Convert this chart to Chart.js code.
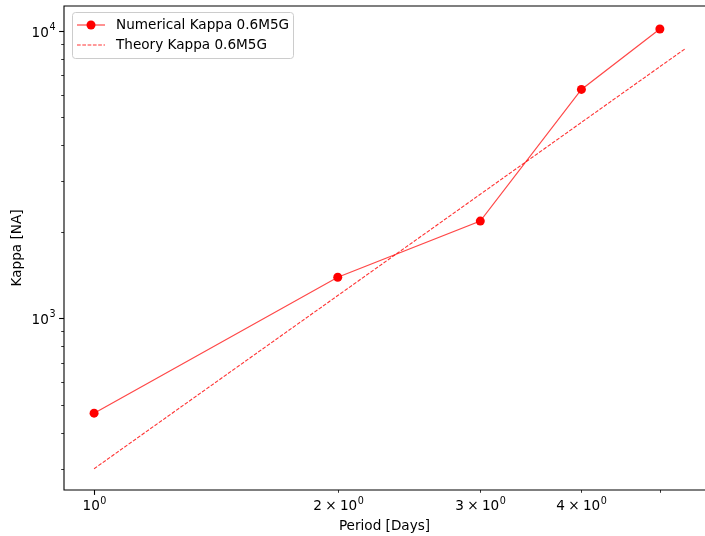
<!DOCTYPE html>
<html lang="en">
<head>
    <meta charset="UTF-8">
    <title>Kappa vs Period</title>
    <script src="https://cdn.jsdelivr.net/npm/chart.js"></script>
    <style>
        body {
            margin: 0;
            background: #fff;
        }
        .chart-container {
            width: 705px;
            height: 536px;
        }
    </style>
</head>
<body>
    <div class="chart-container">
        <canvas id="kappaChart"></canvas>
    </div>

    <script>
        // values
        const periods = [1, 2, 3, 4, 5];
        const numericalKappa = [468, 1389, 2178, 6252, 10136];
        const theoryPeriods = [1, 2, 3, 4, 5, 5.38];
        const theoryKappa = [300, 1200, 2700, 4800, 7500, 8680];

        const xTicks = [1, 2, 3, 4, 5];
        // [base, exponent] pairs, drawn like matplotlib mathtext
        const xTickLabels = [['10', '0'], ['2\u2005\u00d7\u200510', '0'], ['3\u2005\u00d7\u200510', '0'], ['4\u2005\u00d7\u200510', '0'], null];
        const xMajor = [1];
        const yTicks = [300, 400, 500, 600, 700, 800, 900, 1000, 2000, 3000, 4000, 5000, 6000, 7000, 8000, 9000, 10000];
        const yMajor = [1000, 10000];
        const yTickLabels = {1000: ['10', '3'], 10000: ['10', '4']};

        const FONT = 'DejaVu Sans';
        const FSIZE = 13.6;
        const SUPSIZE = 9.6;

        function drawPower(ctx, label, x, baseline, align) {
            const [base, exp] = label;
            ctx.font = FSIZE + 'px "' + FONT + '"';
            const wb = ctx.measureText(base).width;
            ctx.font = SUPSIZE + 'px "' + FONT + '"';
            const we = ctx.measureText(exp).width;
            const total = wb + 0.5 + we;
            let x0 = align === 'right' ? x - total : x - total / 2;
            ctx.textAlign = 'left';
            ctx.textBaseline = 'alphabetic';
            ctx.font = FSIZE + 'px "' + FONT + '"';
            ctx.fillText(base, x0, baseline);
            ctx.font = SUPSIZE + 'px "' + FONT + '"';
            ctx.fillText(exp, x0 + wb + 0.5, baseline - 6.5);
        }

        // spines, tick marks, tick labels and legend drawn matplotlib style
        const axesPlugin = {
            id: 'axesPlugin',
            afterDatasetsDraw(chart) {
                const ctx = chart.ctx;
                const area = chart.chartArea;
                const xs = chart.scales.x;
                const ys = chart.scales.y;
                ctx.save();
                ctx.strokeStyle = '#000';
                ctx.fillStyle = '#000';

                // ticks and labels
                xTicks.forEach((v, i) => {
                    const px = Math.round(xs.getPixelForValue(v)) + 0.5;
                    const major = xMajor.includes(v);
                    ctx.lineWidth = major ? 1.1 : 0.8;
                    ctx.beginPath();
                    ctx.moveTo(px, area.bottom);
                    ctx.lineTo(px, area.bottom + (major ? 4.9 : 2.8));
                    ctx.stroke();
                    if (xTickLabels[i]) {
                        drawPower(ctx, xTickLabels[i], px, area.bottom + 20, 'center');
                    }
                });
                yTicks.forEach(v => {
                    const py = Math.round(ys.getPixelForValue(v)) + 0.5;
                    const major = yMajor.includes(v);
                    ctx.lineWidth = major ? 1.1 : 0.8;
                    ctx.beginPath();
                    ctx.moveTo(area.left, py);
                    ctx.lineTo(area.left - (major ? 4.9 : 2.8), py);
                    ctx.stroke();
                    if (yTickLabels[v]) {
                        drawPower(ctx, yTickLabels[v], area.left - 8.5, py + 5, 'right');
                    }
                });

                // spines (the right one falls outside the cropped reference)
                ctx.lineWidth = 1.1;
                ctx.beginPath();
                ctx.moveTo(area.right + 2, area.top);
                ctx.lineTo(area.left, area.top);
                ctx.lineTo(area.left, area.bottom);
                ctx.lineTo(area.right + 2, area.bottom);
                ctx.stroke();

                // legend
                const bx = 72, by = 12, bw = 221, bh = 46;
                ctx.beginPath();
                ctx.roundRect(bx + 0.5, by + 0.5, bw, bh, 3);
                ctx.fillStyle = 'rgba(255,255,255,0.8)';
                ctx.fill();
                ctx.strokeStyle = '#cccccc';
                ctx.lineWidth = 1;
                ctx.stroke();

                const rows = chart.data.datasets;
                const rowY = [25, 45];
                ctx.font = FSIZE + 'px "' + FONT + '"';
                ctx.textAlign = 'left';
                ctx.textBaseline = 'middle';
                rows.forEach((ds, i) => {
                    const y = rowY[i];
                    ctx.strokeStyle = ds.borderColor;
                    ctx.lineWidth = ds.borderWidth;
                    ctx.setLineDash(ds.borderDash || []);
                    ctx.beginPath();
                    ctx.moveTo(77, y);
                    ctx.lineTo(105, y);
                    ctx.stroke();
                    ctx.setLineDash([]);
                    if (ds.pointRadius > 0) {
                        ctx.fillStyle = ds.pointBackgroundColor;
                        ctx.beginPath();
                        ctx.arc(91, y, ds.pointRadius, 0, Math.PI * 2);
                        ctx.fill();
                    }
                    ctx.fillStyle = '#000';
                    ctx.fillText(ds.label, 116, y);
                });
                ctx.restore();
            }
        };

        function noPadding(scale) {
            scale.paddingLeft = 0;
            scale.paddingRight = 0;
            scale.paddingTop = 0;
            scale.paddingBottom = 0;
        }

        const ctx = document.getElementById('kappaChart').getContext('2d');

        new Chart(ctx, {
            type: 'line',
            data: {
                datasets: [
                    {
                        label: 'Numerical Kappa 0.6M5G',
                        data: periods.map((p, i) => ({x: p, y: numericalKappa[i]})),
                        borderColor: 'rgba(255, 0, 0, 0.72)',
                        borderWidth: 1.2,
                        pointRadius: 4.5,
                        pointBackgroundColor: '#ff0000',
                        pointBorderWidth: 0,
                        tension: 0
                    },
                    {
                        label: 'Theory Kappa 0.6M5G',
                        data: theoryPeriods.map((p, i) => ({x: p, y: theoryKappa[i]})),
                        borderColor: 'rgba(255, 0, 0, 0.8)',
                        borderWidth: 1.1,
                        borderDash: [3.7, 1.6],
                        pointRadius: 0,
                        tension: 0
                    }
                ]
            },
            options: {
                responsive: true,
                maintainAspectRatio: false,
                animation: false,
                layout: {
                    autoPadding: false,
                    padding: {left: 0, top: 6, right: 0, bottom: 0}
                },
                scales: {
                    x: {
                        type: 'logarithmic',
                        min: 0.918,
                        max: 5.685,
                        grid: {display: false, drawTicks: false},
                        border: {display: false},
                        afterBuildTicks: scale => {
                            scale.ticks = xTicks.map(v => ({value: v}));
                        },
                        afterFit: scale => {
                            scale.height = 46;
                            noPadding(scale);
                        },
                        ticks: {
                            autoSkip: false,
                            maxRotation: 0,
                            callback: () => ''
                        },
                        title: {
                            display: true,
                            text: 'Period [Days]',
                            color: '#000',
                            font: {family: FONT, size: FSIZE},
                            padding: {top: 1, bottom: 1}
                        }
                    },
                    y: {
                        type: 'logarithmic',
                        min: 253,
                        max: 12190,
                        grid: {display: false, drawTicks: false},
                        border: {display: false},
                        afterBuildTicks: scale => {
                            scale.ticks = yTicks.map(v => ({value: v}));
                        },
                        afterFit: scale => {
                            scale.width = 64;
                            noPadding(scale);
                        },
                        ticks: {
                            autoSkip: false,
                            callback: () => ''
                        },
                        title: {
                            display: true,
                            text: 'Kappa [NA]',
                            color: '#000',
                            font: {family: FONT, size: FSIZE},
                            padding: {top: 9, bottom: 9}
                        }
                    }
                },
                plugins: {
                    legend: {display: false},
                    tooltip: {enabled: false}
                }
            },
            plugins: [axesPlugin]
        });
    </script>
</body>
</html>
